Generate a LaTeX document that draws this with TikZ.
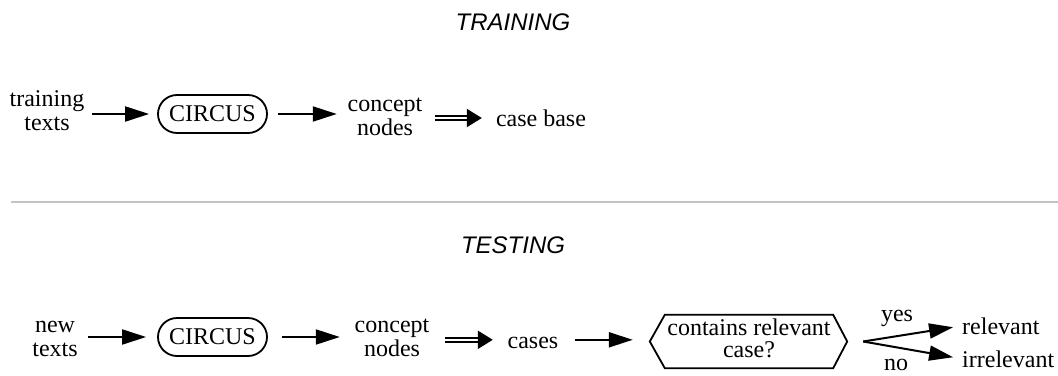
\documentclass[tikz,border=0pt]{standalone}
\usepackage{fontspec}
\setmainfont{Liberation Serif}
\newfontfamily\titlefont{Liberation Sans}
\usetikzlibrary{arrows.meta,calc}
\definecolor{sepgray}{RGB}{195,195,195}
\begin{document}
\begin{tikzpicture}[x=1pt,y=-1pt,
  txt/.style={font=\fontsize{24}{24}\selectfont, inner sep=0pt, align=center},
  one/.style={txt, text height=16.4pt, text depth=0pt},
  ttl/.style={font=\fontsize{24}{24}\selectfont\titlefont\itshape, inner sep=0pt},
  circbox/.style={txt, draw, line width=1.8pt, rounded corners=19pt, minimum width=109pt, minimum height=38pt},
  arr/.style={line width=2pt, -{Triangle[length=24pt,width=15pt]}},
  darr/.style={double, double distance=2.6pt, line width=2pt, -{Triangle[length=15pt,width=18pt]}},
]
\useasboundingbox (0,0) rectangle (1058,375);

% titles and separator
\node[ttl] (t1) at (513,22) {TRAINING};
\node[ttl] (t2) at (513,245) {TESTING};
\draw[sepgray, line width=2pt] (11,202) -- (1058,202);

% training row
\node[txt] (tt) at (47,111) {training\\texts};
\node[circbox] (c1) at (212.5,114) {CIRCUS};
\node[txt] (cn1) at (385,117) {concept\\nodes};
\node[one] (cb) at (541,118) {case base};

\draw[arr, shorten <=7.6pt, shorten >=8pt] (tt.east |- c1.west) -- (c1.west);
\draw[arr, shorten <=10.5pt, shorten >=10.7pt] (c1.east) -- (c1.east -| cn1.west);
\draw[darr, shorten <=12.7pt, shorten >=14pt] (cn1.east |- cb.west) -- (cb.west);

% testing row
\node[txt] (nt) at (55,338.5) {new\\texts};
\node[circbox] (c2) at (212.5,337) {CIRCUS};
\node[txt] (cn2) at (392,338) {concept\\nodes};
\node[one] (cs) at (533,339.8) {cases};
\node[txt, font=\fontsize{24}{22}\selectfont, minimum width=168pt, minimum height=53pt] (hx) at (749,341.5)
  {contains relevant\\case?\rule[-7pt]{0pt}{0pt}};
\draw[line width=1.8pt, line join=miter] (hx.north west) -- (hx.north east) -- ([xshift=14pt]hx.east)
  -- (hx.south east) -- (hx.south west) -- ([xshift=-15pt]hx.west) -- cycle;

\draw[arr, shorten <=10.3pt, shorten >=11pt] (nt.east |- c2.west) -- (c2.west);
\draw[arr, shorten <=14.5pt, shorten >=14.7pt] (c2.east) -- (c2.east -| cn2.west);
\draw[darr, shorten <=15.7pt, shorten >=14.7pt] (cn2.east |- cs.west) -- (cs.west);
\draw[arr, shorten <=16.7pt, shorten >=32pt] (cs.east) -- (cs.east -| hx.west);

\coordinate (fork) at ([xshift=30pt]hx.east);
\node[one, anchor=base west] (rel) at (962,334) {relevant};
\node[one, anchor=base west] (irr) at (962,367) {irrelevant};
\draw[arr, shorten >=9pt] (fork) -- (rel.west);
\draw[arr, shorten >=9pt] (fork) -- (irr.west);
\node[one, anchor=base] (yes) at (897,321) {yes};
\node[one, anchor=base] (no) at (896,370) {no};
\end{tikzpicture}
\end{document}
